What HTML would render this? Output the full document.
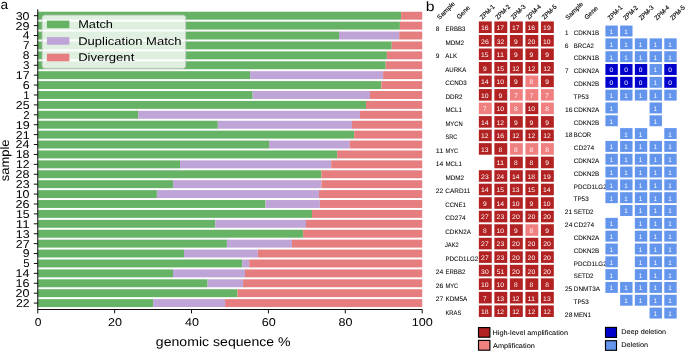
<!DOCTYPE html><html><head><meta charset="utf-8"><title>figure</title><style>html,body{margin:0;padding:0;background:#fff;width:685px;height:351px;overflow:hidden}</style></head><body><svg width="685" height="351" viewBox="0 0 685 351" style="will-change:transform;display:block;font-family:'Liberation Sans',sans-serif"><style>text{text-rendering:geometricPrecision}.pb[fill="#000"]{stroke:#000;stroke-width:0.05px}.pa{stroke:#000;stroke-width:0px}.ph{stroke:#000;stroke-width:0.15px}</style><rect x="37.75" y="11.73" width="363.35" height="7.93" fill="#66b366"/>
<rect x="401.10" y="11.73" width="21.10" height="7.93" fill="#e67d7e"/>
<rect x="37.75" y="21.64" width="362.15" height="7.93" fill="#66b366"/>
<rect x="399.90" y="21.64" width="22.30" height="7.93" fill="#e67d7e"/>
<rect x="37.75" y="31.55" width="301.25" height="7.93" fill="#66b366"/>
<rect x="339.00" y="31.55" width="60.20" height="7.93" fill="#bfa4d7"/>
<rect x="399.20" y="31.55" width="23.00" height="7.93" fill="#e67d7e"/>
<rect x="37.75" y="41.47" width="353.95" height="7.93" fill="#66b366"/>
<rect x="391.70" y="41.47" width="30.50" height="7.93" fill="#e67d7e"/>
<rect x="37.75" y="51.38" width="349.15" height="7.93" fill="#66b366"/>
<rect x="386.90" y="51.38" width="35.30" height="7.93" fill="#e67d7e"/>
<rect x="37.75" y="61.28" width="347.95" height="7.93" fill="#66b366"/>
<rect x="385.70" y="61.28" width="36.50" height="7.93" fill="#e67d7e"/>
<rect x="37.75" y="71.19" width="212.35" height="7.93" fill="#66b366"/>
<rect x="250.10" y="71.19" width="133.00" height="7.93" fill="#bfa4d7"/>
<rect x="383.10" y="71.19" width="39.10" height="7.93" fill="#e67d7e"/>
<rect x="37.75" y="81.11" width="343.65" height="7.93" fill="#66b366"/>
<rect x="381.40" y="81.11" width="40.80" height="7.93" fill="#e67d7e"/>
<rect x="37.75" y="91.02" width="214.85" height="7.93" fill="#66b366"/>
<rect x="252.60" y="91.02" width="117.40" height="7.93" fill="#bfa4d7"/>
<rect x="370.00" y="91.02" width="52.20" height="7.93" fill="#e67d7e"/>
<rect x="37.75" y="100.92" width="328.25" height="7.93" fill="#66b366"/>
<rect x="366.00" y="100.92" width="56.20" height="7.93" fill="#e67d7e"/>
<rect x="37.75" y="110.83" width="100.45" height="7.93" fill="#66b366"/>
<rect x="138.20" y="110.83" width="221.80" height="7.93" fill="#bfa4d7"/>
<rect x="360.00" y="110.83" width="62.20" height="7.93" fill="#e67d7e"/>
<rect x="37.75" y="120.75" width="180.05" height="7.93" fill="#66b366"/>
<rect x="217.80" y="120.75" width="134.20" height="7.93" fill="#bfa4d7"/>
<rect x="352.00" y="120.75" width="70.20" height="7.93" fill="#e67d7e"/>
<rect x="37.75" y="130.66" width="316.45" height="7.93" fill="#66b366"/>
<rect x="354.20" y="130.66" width="68.00" height="7.93" fill="#e67d7e"/>
<rect x="37.75" y="140.56" width="231.25" height="7.93" fill="#66b366"/>
<rect x="269.00" y="140.56" width="80.80" height="7.93" fill="#bfa4d7"/>
<rect x="349.80" y="140.56" width="72.40" height="7.93" fill="#e67d7e"/>
<rect x="37.75" y="150.47" width="299.45" height="7.93" fill="#66b366"/>
<rect x="337.20" y="150.47" width="85.00" height="7.93" fill="#e67d7e"/>
<rect x="37.75" y="160.38" width="142.25" height="7.93" fill="#66b366"/>
<rect x="180.00" y="160.38" width="151.20" height="7.93" fill="#bfa4d7"/>
<rect x="331.20" y="160.38" width="91.00" height="7.93" fill="#e67d7e"/>
<rect x="37.75" y="170.29" width="283.65" height="7.93" fill="#66b366"/>
<rect x="321.40" y="170.29" width="100.80" height="7.93" fill="#e67d7e"/>
<rect x="37.75" y="180.20" width="135.25" height="7.93" fill="#66b366"/>
<rect x="173.00" y="180.20" width="148.50" height="7.93" fill="#bfa4d7"/>
<rect x="321.50" y="180.20" width="100.70" height="7.93" fill="#e67d7e"/>
<rect x="37.75" y="190.11" width="119.15" height="7.93" fill="#66b366"/>
<rect x="156.90" y="190.11" width="162.10" height="7.93" fill="#bfa4d7"/>
<rect x="319.00" y="190.11" width="103.20" height="7.93" fill="#e67d7e"/>
<rect x="37.75" y="200.02" width="227.75" height="7.93" fill="#66b366"/>
<rect x="265.50" y="200.02" width="54.40" height="7.93" fill="#bfa4d7"/>
<rect x="319.90" y="200.02" width="102.30" height="7.93" fill="#e67d7e"/>
<rect x="37.75" y="209.93" width="274.25" height="7.93" fill="#66b366"/>
<rect x="312.00" y="209.93" width="110.20" height="7.93" fill="#e67d7e"/>
<rect x="37.75" y="219.84" width="177.55" height="7.93" fill="#66b366"/>
<rect x="215.30" y="219.84" width="90.70" height="7.93" fill="#bfa4d7"/>
<rect x="306.00" y="219.84" width="116.20" height="7.93" fill="#e67d7e"/>
<rect x="37.75" y="229.75" width="265.35" height="7.93" fill="#66b366"/>
<rect x="303.10" y="229.75" width="119.10" height="7.93" fill="#e67d7e"/>
<rect x="37.75" y="239.66" width="189.15" height="7.93" fill="#66b366"/>
<rect x="226.90" y="239.66" width="65.10" height="7.93" fill="#bfa4d7"/>
<rect x="292.00" y="239.66" width="130.20" height="7.93" fill="#e67d7e"/>
<rect x="37.75" y="249.57" width="146.25" height="7.93" fill="#66b366"/>
<rect x="184.00" y="249.57" width="73.90" height="7.93" fill="#bfa4d7"/>
<rect x="257.90" y="249.57" width="164.30" height="7.93" fill="#e67d7e"/>
<rect x="37.75" y="259.49" width="204.45" height="7.93" fill="#66b366"/>
<rect x="242.20" y="259.49" width="7.00" height="7.93" fill="#bfa4d7"/>
<rect x="249.20" y="259.49" width="173.00" height="7.93" fill="#e67d7e"/>
<rect x="37.75" y="269.40" width="135.25" height="7.93" fill="#66b366"/>
<rect x="173.00" y="269.40" width="72.00" height="7.93" fill="#bfa4d7"/>
<rect x="245.00" y="269.40" width="177.20" height="7.93" fill="#e67d7e"/>
<rect x="37.75" y="279.31" width="169.85" height="7.93" fill="#66b366"/>
<rect x="207.60" y="279.31" width="35.50" height="7.93" fill="#bfa4d7"/>
<rect x="243.10" y="279.31" width="179.10" height="7.93" fill="#e67d7e"/>
<rect x="37.75" y="289.22" width="199.75" height="7.93" fill="#66b366"/>
<rect x="237.50" y="289.22" width="184.70" height="7.93" fill="#e67d7e"/>
<rect x="37.75" y="299.12" width="115.35" height="7.93" fill="#66b366"/>
<rect x="153.10" y="299.12" width="72.00" height="7.93" fill="#bfa4d7"/>
<rect x="225.10" y="299.12" width="197.10" height="7.93" fill="#e67d7e"/>
<path d="M37.75 9.3 V309.50 H422.20" fill="none" stroke="#000" stroke-width="0.95"/>
<path d="M33.85 15.70 H37.75" stroke="#000" stroke-width="0.95"/>
<text transform="translate(15.68,19.65) scale(1.0971,1)" font-size="11.35" fill="#000" class="pa">30</text>
<path d="M33.85 25.61 H37.75" stroke="#000" stroke-width="0.95"/>
<text transform="translate(15.60,29.56) scale(1.1084,1)" font-size="11.35" fill="#000" class="pa">29</text>
<path d="M33.85 35.52 H37.75" stroke="#000" stroke-width="0.95"/>
<text transform="translate(22.68,39.47) scale(1.0600,1)" font-size="11.35" fill="#000" class="pa">4</text>
<path d="M33.85 45.43 H37.75" stroke="#000" stroke-width="0.95"/>
<text transform="translate(23.08,49.38) scale(1.0330,1)" font-size="11.35" fill="#000" class="pa">7</text>
<path d="M33.85 55.34 H37.75" stroke="#000" stroke-width="0.95"/>
<text transform="translate(22.78,59.29) scale(1.0638,1)" font-size="11.35" fill="#000" class="pa">8</text>
<path d="M33.85 65.25 H37.75" stroke="#000" stroke-width="0.95"/>
<text transform="translate(23.09,69.20) scale(1.0213,1)" font-size="11.35" fill="#000" class="pa">3</text>
<path d="M33.85 75.16 H37.75" stroke="#000" stroke-width="0.95"/>
<text transform="translate(15.87,79.11) scale(1.0914,1)" font-size="11.35" fill="#000" class="pa">17</text>
<path d="M33.85 85.07 H37.75" stroke="#000" stroke-width="0.95"/>
<text transform="translate(22.65,89.02) scale(1.0978,1)" font-size="11.35" fill="#000" class="pa">6</text>
<path d="M33.85 94.98 H37.75" stroke="#000" stroke-width="0.95"/>
<text transform="translate(23.20,98.93) scale(1.0116,1)" font-size="11.35" fill="#000" class="pa">1</text>
<path d="M33.85 104.89 H37.75" stroke="#000" stroke-width="0.95"/>
<text transform="translate(15.78,108.84) scale(1.0882,1)" font-size="11.35" fill="#000" class="pa">25</text>
<path d="M33.85 114.80 H37.75" stroke="#000" stroke-width="0.95"/>
<text transform="translate(23.21,118.75) scale(1.0110,1)" font-size="11.35" fill="#000" class="pa">2</text>
<path d="M33.85 124.71 H37.75" stroke="#000" stroke-width="0.95"/>
<text transform="translate(15.69,128.66) scale(1.1010,1)" font-size="11.35" fill="#000" class="pa">19</text>
<path d="M33.85 134.62 H37.75" stroke="#000" stroke-width="0.95"/>
<text transform="translate(15.84,138.57) scale(1.0941,1)" font-size="11.35" fill="#000" class="pa">21</text>
<path d="M33.85 144.53 H37.75" stroke="#000" stroke-width="0.95"/>
<text transform="translate(15.43,148.48) scale(1.1068,1)" font-size="11.35" fill="#000" class="pa">24</text>
<path d="M33.85 154.44 H37.75" stroke="#000" stroke-width="0.95"/>
<text transform="translate(15.63,158.39) scale(1.1005,1)" font-size="11.35" fill="#000" class="pa">18</text>
<path d="M33.85 164.35 H37.75" stroke="#000" stroke-width="0.95"/>
<text transform="translate(16.05,168.30) scale(1.0761,1)" font-size="11.35" fill="#000" class="pa">12</text>
<path d="M33.85 174.26 H37.75" stroke="#000" stroke-width="0.95"/>
<text transform="translate(15.55,178.21) scale(1.1078,1)" font-size="11.35" fill="#000" class="pa">28</text>
<path d="M33.85 184.17 H37.75" stroke="#000" stroke-width="0.95"/>
<text transform="translate(15.72,188.12) scale(1.0985,1)" font-size="11.35" fill="#000" class="pa">23</text>
<path d="M33.85 194.08 H37.75" stroke="#000" stroke-width="0.95"/>
<text transform="translate(15.63,198.03) scale(1.1005,1)" font-size="11.35" fill="#000" class="pa">10</text>
<path d="M33.85 203.99 H37.75" stroke="#000" stroke-width="0.95"/>
<text transform="translate(15.48,207.94) scale(1.1182,1)" font-size="11.35" fill="#000" class="pa">26</text>
<path d="M33.85 213.90 H37.75" stroke="#000" stroke-width="0.95"/>
<text transform="translate(15.88,217.85) scale(1.0804,1)" font-size="11.35" fill="#000" class="pa">15</text>
<path d="M33.85 223.81 H37.75" stroke="#000" stroke-width="0.95"/>
<text transform="translate(15.85,227.76) scale(1.1758,1)" font-size="11.35" fill="#000" class="pa">11</text>
<path d="M33.85 233.72 H37.75" stroke="#000" stroke-width="0.95"/>
<text transform="translate(15.81,237.67) scale(1.0909,1)" font-size="11.35" fill="#000" class="pa">13</text>
<path d="M33.85 243.63 H37.75" stroke="#000" stroke-width="0.95"/>
<text transform="translate(15.78,247.58) scale(1.0990,1)" font-size="11.35" fill="#000" class="pa">27</text>
<path d="M33.85 253.54 H37.75" stroke="#000" stroke-width="0.95"/>
<text transform="translate(22.78,257.49) scale(1.0753,1)" font-size="11.35" fill="#000" class="pa">9</text>
<path d="M33.85 263.45 H37.75" stroke="#000" stroke-width="0.95"/>
<text transform="translate(23.15,267.40) scale(1.0000,1)" font-size="11.35" fill="#000" class="pa">5</text>
<path d="M33.85 273.36 H37.75" stroke="#000" stroke-width="0.95"/>
<text transform="translate(15.52,277.31) scale(1.0995,1)" font-size="11.35" fill="#000" class="pa">14</text>
<path d="M33.85 283.27 H37.75" stroke="#000" stroke-width="0.95"/>
<text transform="translate(15.57,287.22) scale(1.1111,1)" font-size="11.35" fill="#000" class="pa">16</text>
<path d="M33.85 293.18 H37.75" stroke="#000" stroke-width="0.95"/>
<text transform="translate(15.55,297.13) scale(1.1078,1)" font-size="11.35" fill="#000" class="pa">20</text>
<path d="M33.85 303.09 H37.75" stroke="#000" stroke-width="0.95"/>
<text transform="translate(15.96,307.04) scale(1.0842,1)" font-size="11.35" fill="#000" class="pa">22</text>
<path d="M37.75 309.50 V313.40" stroke="#000" stroke-width="0.95"/>
<text transform="translate(34.70,326.10) scale(1.0632,1)" font-size="11.35" fill="#000" class="pa">0</text>
<path d="M114.64 309.50 V313.40" stroke="#000" stroke-width="0.95"/>
<text transform="translate(107.90,326.10) scale(1.1078,1)" font-size="11.35" fill="#000" class="pa">20</text>
<path d="M191.53 309.50 V313.40" stroke="#000" stroke-width="0.95"/>
<text transform="translate(184.96,326.10) scale(1.1053,1)" font-size="11.35" fill="#000" class="pa">40</text>
<path d="M268.42 309.50 V313.40" stroke="#000" stroke-width="0.95"/>
<text transform="translate(261.65,326.10) scale(1.1127,1)" font-size="11.35" fill="#000" class="pa">60</text>
<path d="M345.31 309.50 V313.40" stroke="#000" stroke-width="0.95"/>
<text transform="translate(338.60,326.10) scale(1.1073,1)" font-size="11.35" fill="#000" class="pa">80</text>
<path d="M422.20 309.50 V313.40" stroke="#000" stroke-width="0.95"/>
<text transform="translate(411.70,326.10) scale(1.1194,1)" font-size="11.35" fill="#000" class="pa">100</text>
<text transform="translate(155.84,345.50) scale(1.1159,1)" font-size="12.64" fill="#000" class="pa">genomic sequence %</text>
<text transform="translate(8.70,181.19) rotate(-90) scale(1.0557,1)" font-size="12.24" fill="#000" class="pa">sample</text>
<rect x="42.2" y="15.2" width="143.4" height="53.1" rx="2.8" fill="#fff" fill-opacity="0.8" stroke="#ccc" stroke-opacity="0.8" stroke-width="0.95"/>
<rect x="46.90" y="20.60" width="22.50" height="7.60" fill="#66b366"/>
<text transform="translate(78.18,28.25) scale(1.1373,1)" font-size="11.22" fill="#000" class="pa">Match</text>
<rect x="46.90" y="37.15" width="22.50" height="7.60" fill="#bfa4d7"/>
<text transform="translate(78.16,44.80) scale(1.1591,1)" font-size="11.22" fill="#000" class="pa">Duplication Match</text>
<rect x="46.90" y="53.70" width="22.50" height="7.60" fill="#e67d7e"/>
<text transform="translate(78.15,61.35) scale(1.1690,1)" font-size="11.22" fill="#000" class="pa">Divergent</text>
<text transform="translate(0.38,9.00) scale(1.0300,1)" font-size="13.30" fill="#000" class="pa">a</text>
<text transform="translate(425.77,10.50) scale(1.1600,1)" font-size="13.60" fill="#000" class="pa">b</text>
<text transform="translate(435.83,31.05) scale(1.0036,1)" font-size="6.47" fill="#000" class="pb">8</text>
<text transform="translate(445.42,31.05) scale(0.9434,1)" font-size="6.47" fill="#000" class="pb">ERBB3</text>
<rect x="478.85" y="21.45" width="12.90" height="11.60" fill="#b22222"/>
<text transform="translate(480.97,30.16) scale(1.0482,1)" font-size="6.57" fill="#fff" class="pb">16</text>
<rect x="494.37" y="21.45" width="12.90" height="11.60" fill="#b22222"/>
<text transform="translate(496.58,30.16) scale(1.0296,1)" font-size="6.57" fill="#fff" class="pb">17</text>
<rect x="509.89" y="21.45" width="12.90" height="11.60" fill="#b22222"/>
<text transform="translate(512.10,30.16) scale(1.0296,1)" font-size="6.57" fill="#fff" class="pb">17</text>
<rect x="525.41" y="21.45" width="12.90" height="11.60" fill="#b22222"/>
<text transform="translate(527.53,30.16) scale(1.0482,1)" font-size="6.57" fill="#fff" class="pb">16</text>
<rect x="540.93" y="21.45" width="12.90" height="11.60" fill="#b22222"/>
<text transform="translate(543.09,30.16) scale(1.0387,1)" font-size="6.57" fill="#fff" class="pb">19</text>
<text transform="translate(445.40,44.57) scale(0.9819,1)" font-size="6.47" fill="#000" class="pb">MDM2</text>
<rect x="478.85" y="34.97" width="12.90" height="11.60" fill="#b22222"/>
<text transform="translate(481.03,43.68) scale(1.0549,1)" font-size="6.57" fill="#fff" class="pb">26</text>
<rect x="494.37" y="34.97" width="12.90" height="11.60" fill="#b22222"/>
<text transform="translate(496.76,43.68) scale(1.0128,1)" font-size="6.57" fill="#fff" class="pb">32</text>
<rect x="509.89" y="34.97" width="12.90" height="11.60" fill="#b22222"/>
<text transform="translate(514.09,43.68) scale(1.0144,1)" font-size="6.57" fill="#fff" class="pb">9</text>
<rect x="525.41" y="34.97" width="12.90" height="11.60" fill="#b22222"/>
<text transform="translate(527.61,43.68) scale(1.0451,1)" font-size="6.57" fill="#fff" class="pb">20</text>
<rect x="540.93" y="34.97" width="12.90" height="11.60" fill="#b22222"/>
<text transform="translate(543.07,43.68) scale(1.0382,1)" font-size="6.57" fill="#fff" class="pb">10</text>
<text transform="translate(435.80,58.09) scale(1.0144,1)" font-size="6.47" fill="#000" class="pb">9</text>
<text transform="translate(445.33,58.09) scale(0.9585,1)" font-size="6.47" fill="#000" class="pb">ALK</text>
<rect x="478.85" y="48.49" width="12.90" height="11.60" fill="#b22222"/>
<text transform="translate(481.07,57.20) scale(1.0192,1)" font-size="6.57" fill="#fff" class="pb">15</text>
<rect x="494.37" y="48.49" width="12.90" height="11.60" fill="#b22222"/>
<text transform="translate(496.56,57.20) scale(1.1093,1)" font-size="6.57" fill="#fff" class="pb">11</text>
<rect x="509.89" y="48.49" width="12.90" height="11.60" fill="#b22222"/>
<text transform="translate(514.09,57.20) scale(1.0144,1)" font-size="6.57" fill="#fff" class="pb">9</text>
<rect x="525.41" y="48.49" width="12.90" height="11.60" fill="#b22222"/>
<text transform="translate(529.61,57.20) scale(1.0144,1)" font-size="6.57" fill="#fff" class="pb">9</text>
<rect x="540.93" y="48.49" width="12.90" height="11.60" fill="#b22222"/>
<text transform="translate(545.13,57.20) scale(1.0144,1)" font-size="6.57" fill="#fff" class="pb">9</text>
<text transform="translate(445.33,71.61) scale(0.9365,1)" font-size="6.47" fill="#000" class="pb">AURKA</text>
<rect x="478.85" y="62.01" width="12.90" height="11.60" fill="#b22222"/>
<text transform="translate(483.05,70.72) scale(1.0144,1)" font-size="6.57" fill="#fff" class="pb">9</text>
<rect x="494.37" y="62.01" width="12.90" height="11.60" fill="#b22222"/>
<text transform="translate(496.59,70.72) scale(1.0192,1)" font-size="6.57" fill="#fff" class="pb">15</text>
<rect x="509.89" y="62.01" width="12.90" height="11.60" fill="#b22222"/>
<text transform="translate(512.15,70.72) scale(1.0152,1)" font-size="6.57" fill="#fff" class="pb">12</text>
<rect x="525.41" y="62.01" width="12.90" height="11.60" fill="#b22222"/>
<text transform="translate(527.67,70.72) scale(1.0152,1)" font-size="6.57" fill="#fff" class="pb">12</text>
<rect x="540.93" y="62.01" width="12.90" height="11.60" fill="#b22222"/>
<text transform="translate(543.19,70.72) scale(1.0152,1)" font-size="6.57" fill="#fff" class="pb">12</text>
<text transform="translate(445.32,85.13) scale(0.9617,1)" font-size="6.47" fill="#000" class="pb">CCND3</text>
<rect x="478.85" y="75.53" width="12.90" height="11.60" fill="#b22222"/>
<text transform="translate(480.96,84.24) scale(1.0373,1)" font-size="6.57" fill="#fff" class="pb">14</text>
<rect x="494.37" y="75.53" width="12.90" height="11.60" fill="#b22222"/>
<text transform="translate(496.51,84.24) scale(1.0382,1)" font-size="6.57" fill="#fff" class="pb">10</text>
<rect x="509.89" y="75.53" width="12.90" height="11.60" fill="#b22222"/>
<text transform="translate(514.09,84.24) scale(1.0144,1)" font-size="6.57" fill="#fff" class="pb">9</text>
<rect x="525.41" y="75.53" width="12.90" height="11.60" fill="#f08080"/>
<text transform="translate(529.61,84.24) scale(1.0036,1)" font-size="6.57" fill="#fff" class="pb">8</text>
<rect x="540.93" y="75.53" width="12.90" height="11.60" fill="#b22222"/>
<text transform="translate(545.13,84.24) scale(1.0144,1)" font-size="6.57" fill="#fff" class="pb">9</text>
<text transform="translate(445.41,98.65) scale(0.9725,1)" font-size="6.47" fill="#000" class="pb">DDR2</text>
<rect x="478.85" y="89.05" width="12.90" height="11.60" fill="#b22222"/>
<text transform="translate(480.99,97.76) scale(1.0382,1)" font-size="6.57" fill="#fff" class="pb">10</text>
<rect x="494.37" y="89.05" width="12.90" height="11.60" fill="#b22222"/>
<text transform="translate(498.57,97.76) scale(1.0144,1)" font-size="6.57" fill="#fff" class="pb">9</text>
<rect x="509.89" y="89.05" width="12.90" height="11.60" fill="#f08080"/>
<text transform="translate(514.16,97.76) scale(0.9745,1)" font-size="6.57" fill="#fff" class="pb">7</text>
<rect x="525.41" y="89.05" width="12.90" height="11.60" fill="#f08080"/>
<text transform="translate(529.68,97.76) scale(0.9745,1)" font-size="6.57" fill="#fff" class="pb">7</text>
<rect x="540.93" y="89.05" width="12.90" height="11.60" fill="#f08080"/>
<text transform="translate(545.20,97.76) scale(0.9745,1)" font-size="6.57" fill="#fff" class="pb">7</text>
<text transform="translate(445.42,112.17) scale(0.9546,1)" font-size="6.47" fill="#000" class="pb">MCL1</text>
<rect x="478.85" y="102.57" width="12.90" height="11.60" fill="#f08080"/>
<text transform="translate(483.12,111.28) scale(0.9745,1)" font-size="6.57" fill="#fff" class="pb">7</text>
<rect x="494.37" y="102.57" width="12.90" height="11.60" fill="#b22222"/>
<text transform="translate(496.51,111.28) scale(1.0382,1)" font-size="6.57" fill="#fff" class="pb">10</text>
<rect x="509.89" y="102.57" width="12.90" height="11.60" fill="#f08080"/>
<text transform="translate(514.09,111.28) scale(1.0036,1)" font-size="6.57" fill="#fff" class="pb">8</text>
<rect x="525.41" y="102.57" width="12.90" height="11.60" fill="#b22222"/>
<text transform="translate(527.55,111.28) scale(1.0382,1)" font-size="6.57" fill="#fff" class="pb">10</text>
<rect x="540.93" y="102.57" width="12.90" height="11.60" fill="#f08080"/>
<text transform="translate(545.13,111.28) scale(1.0036,1)" font-size="6.57" fill="#fff" class="pb">8</text>
<text transform="translate(445.44,125.69) scale(0.9044,1)" font-size="6.47" fill="#000" class="pb">MYCN</text>
<rect x="478.85" y="116.09" width="12.90" height="11.60" fill="#b22222"/>
<text transform="translate(480.96,124.80) scale(1.0373,1)" font-size="6.57" fill="#fff" class="pb">14</text>
<rect x="494.37" y="116.09" width="12.90" height="11.60" fill="#b22222"/>
<text transform="translate(496.63,124.80) scale(1.0152,1)" font-size="6.57" fill="#fff" class="pb">12</text>
<rect x="509.89" y="116.09" width="12.90" height="11.60" fill="#b22222"/>
<text transform="translate(514.09,124.80) scale(1.0144,1)" font-size="6.57" fill="#fff" class="pb">9</text>
<rect x="525.41" y="116.09" width="12.90" height="11.60" fill="#b22222"/>
<text transform="translate(529.61,124.80) scale(1.0144,1)" font-size="6.57" fill="#fff" class="pb">9</text>
<rect x="540.93" y="116.09" width="12.90" height="11.60" fill="#b22222"/>
<text transform="translate(545.13,124.80) scale(1.0144,1)" font-size="6.57" fill="#fff" class="pb">9</text>
<text transform="translate(445.44,139.21) scale(0.8665,1)" font-size="6.47" fill="#000" class="pb">SRC</text>
<rect x="478.85" y="129.61" width="12.90" height="11.60" fill="#b22222"/>
<text transform="translate(481.11,138.32) scale(1.0152,1)" font-size="6.57" fill="#fff" class="pb">12</text>
<rect x="494.37" y="129.61" width="12.90" height="11.60" fill="#b22222"/>
<text transform="translate(496.49,138.32) scale(1.0482,1)" font-size="6.57" fill="#fff" class="pb">16</text>
<rect x="509.89" y="129.61" width="12.90" height="11.60" fill="#b22222"/>
<text transform="translate(512.15,138.32) scale(1.0152,1)" font-size="6.57" fill="#fff" class="pb">12</text>
<rect x="525.41" y="129.61" width="12.90" height="11.60" fill="#b22222"/>
<text transform="translate(527.67,138.32) scale(1.0152,1)" font-size="6.57" fill="#fff" class="pb">12</text>
<rect x="540.93" y="129.61" width="12.90" height="11.60" fill="#b22222"/>
<text transform="translate(543.19,138.32) scale(1.0152,1)" font-size="6.57" fill="#fff" class="pb">12</text>
<text transform="translate(435.83,152.73) scale(1.1093,1)" font-size="6.47" fill="#000" class="pb">11</text>
<text transform="translate(445.45,152.73) scale(0.8827,1)" font-size="6.47" fill="#000" class="pb">MYC</text>
<rect x="478.85" y="143.13" width="12.90" height="11.60" fill="#b22222"/>
<text transform="translate(481.04,151.84) scale(1.0292,1)" font-size="6.57" fill="#fff" class="pb">13</text>
<rect x="494.37" y="143.13" width="12.90" height="11.60" fill="#b22222"/>
<text transform="translate(498.57,151.84) scale(1.0036,1)" font-size="6.57" fill="#fff" class="pb">8</text>
<rect x="509.89" y="143.13" width="12.90" height="11.60" fill="#f08080"/>
<text transform="translate(514.09,151.84) scale(1.0036,1)" font-size="6.57" fill="#fff" class="pb">8</text>
<rect x="525.41" y="143.13" width="12.90" height="11.60" fill="#f08080"/>
<text transform="translate(529.61,151.84) scale(1.0036,1)" font-size="6.57" fill="#fff" class="pb">8</text>
<rect x="540.93" y="143.13" width="12.90" height="11.60" fill="#f08080"/>
<text transform="translate(545.13,151.84) scale(1.0036,1)" font-size="6.57" fill="#fff" class="pb">8</text>
<text transform="translate(435.87,166.25) scale(1.0373,1)" font-size="6.47" fill="#000" class="pb">14</text>
<text transform="translate(445.42,166.25) scale(0.9546,1)" font-size="6.47" fill="#000" class="pb">MCL1</text>
<rect x="494.37" y="156.65" width="12.90" height="11.60" fill="#b22222"/>
<text transform="translate(496.56,165.36) scale(1.1093,1)" font-size="6.57" fill="#fff" class="pb">11</text>
<rect x="509.89" y="156.65" width="12.90" height="11.60" fill="#b22222"/>
<text transform="translate(514.09,165.36) scale(1.0036,1)" font-size="6.57" fill="#fff" class="pb">8</text>
<rect x="525.41" y="156.65" width="12.90" height="11.60" fill="#b22222"/>
<text transform="translate(529.61,165.36) scale(1.0036,1)" font-size="6.57" fill="#fff" class="pb">8</text>
<rect x="540.93" y="156.65" width="12.90" height="11.60" fill="#b22222"/>
<text transform="translate(545.13,165.36) scale(1.0144,1)" font-size="6.57" fill="#fff" class="pb">9</text>
<text transform="translate(445.40,179.77) scale(0.9819,1)" font-size="6.47" fill="#000" class="pb">MDM2</text>
<rect x="478.85" y="170.17" width="12.90" height="11.60" fill="#b22222"/>
<text transform="translate(481.10,178.88) scale(1.0363,1)" font-size="6.57" fill="#fff" class="pb">23</text>
<rect x="494.37" y="170.17" width="12.90" height="11.60" fill="#b22222"/>
<text transform="translate(496.54,178.88) scale(1.0441,1)" font-size="6.57" fill="#fff" class="pb">24</text>
<rect x="509.89" y="170.17" width="12.90" height="11.60" fill="#b22222"/>
<text transform="translate(512.00,178.88) scale(1.0373,1)" font-size="6.57" fill="#fff" class="pb">14</text>
<rect x="525.41" y="170.17" width="12.90" height="11.60" fill="#b22222"/>
<text transform="translate(527.55,178.88) scale(1.0382,1)" font-size="6.57" fill="#fff" class="pb">18</text>
<rect x="540.93" y="170.17" width="12.90" height="11.60" fill="#b22222"/>
<text transform="translate(543.09,178.88) scale(1.0387,1)" font-size="6.57" fill="#fff" class="pb">19</text>
<text transform="translate(435.83,193.29) scale(1.0228,1)" font-size="6.47" fill="#000" class="pb">22</text>
<text transform="translate(445.31,193.29) scale(0.9947,1)" font-size="6.47" fill="#000" class="pb">CARD11</text>
<rect x="478.85" y="183.69" width="12.90" height="11.60" fill="#b22222"/>
<text transform="translate(480.96,192.40) scale(1.0373,1)" font-size="6.57" fill="#fff" class="pb">14</text>
<rect x="494.37" y="183.69" width="12.90" height="11.60" fill="#b22222"/>
<text transform="translate(496.59,192.40) scale(1.0192,1)" font-size="6.57" fill="#fff" class="pb">15</text>
<rect x="509.89" y="183.69" width="12.90" height="11.60" fill="#b22222"/>
<text transform="translate(512.08,192.40) scale(1.0292,1)" font-size="6.57" fill="#fff" class="pb">13</text>
<rect x="525.41" y="183.69" width="12.90" height="11.60" fill="#b22222"/>
<text transform="translate(527.63,192.40) scale(1.0192,1)" font-size="6.57" fill="#fff" class="pb">15</text>
<rect x="540.93" y="183.69" width="12.90" height="11.60" fill="#b22222"/>
<text transform="translate(543.04,192.40) scale(1.0373,1)" font-size="6.57" fill="#fff" class="pb">14</text>
<text transform="translate(445.33,206.81) scale(0.9362,1)" font-size="6.47" fill="#000" class="pb">CCNE1</text>
<rect x="478.85" y="197.21" width="12.90" height="11.60" fill="#b22222"/>
<text transform="translate(483.05,205.92) scale(1.0144,1)" font-size="6.57" fill="#fff" class="pb">9</text>
<rect x="494.37" y="197.21" width="12.90" height="11.60" fill="#b22222"/>
<text transform="translate(496.48,205.92) scale(1.0373,1)" font-size="6.57" fill="#fff" class="pb">14</text>
<rect x="509.89" y="197.21" width="12.90" height="11.60" fill="#b22222"/>
<text transform="translate(512.03,205.92) scale(1.0382,1)" font-size="6.57" fill="#fff" class="pb">10</text>
<rect x="525.41" y="197.21" width="12.90" height="11.60" fill="#b22222"/>
<text transform="translate(529.61,205.92) scale(1.0144,1)" font-size="6.57" fill="#fff" class="pb">9</text>
<rect x="540.93" y="197.21" width="12.90" height="11.60" fill="#b22222"/>
<text transform="translate(543.07,205.92) scale(1.0382,1)" font-size="6.57" fill="#fff" class="pb">10</text>
<text transform="translate(445.31,220.33) scale(1.0166,1)" font-size="6.47" fill="#000" class="pb">CD274</text>
<rect x="478.85" y="210.73" width="12.90" height="11.60" fill="#b22222"/>
<text transform="translate(481.12,219.44) scale(1.0368,1)" font-size="6.57" fill="#fff" class="pb">27</text>
<rect x="494.37" y="210.73" width="12.90" height="11.60" fill="#b22222"/>
<text transform="translate(496.62,219.44) scale(1.0363,1)" font-size="6.57" fill="#fff" class="pb">23</text>
<rect x="509.89" y="210.73" width="12.90" height="11.60" fill="#b22222"/>
<text transform="translate(512.09,219.44) scale(1.0451,1)" font-size="6.57" fill="#fff" class="pb">20</text>
<rect x="525.41" y="210.73" width="12.90" height="11.60" fill="#b22222"/>
<text transform="translate(527.61,219.44) scale(1.0451,1)" font-size="6.57" fill="#fff" class="pb">20</text>
<rect x="540.93" y="210.73" width="12.90" height="11.60" fill="#b22222"/>
<text transform="translate(543.13,219.44) scale(1.0451,1)" font-size="6.57" fill="#fff" class="pb">20</text>
<text transform="translate(445.32,233.85) scale(0.9728,1)" font-size="6.47" fill="#000" class="pb">CDKN2A</text>
<rect x="478.85" y="224.25" width="12.90" height="11.60" fill="#b22222"/>
<text transform="translate(483.05,232.96) scale(1.0036,1)" font-size="6.57" fill="#fff" class="pb">8</text>
<rect x="494.37" y="224.25" width="12.90" height="11.60" fill="#b22222"/>
<text transform="translate(496.51,232.96) scale(1.0382,1)" font-size="6.57" fill="#fff" class="pb">10</text>
<rect x="509.89" y="224.25" width="12.90" height="11.60" fill="#b22222"/>
<text transform="translate(514.09,232.96) scale(1.0144,1)" font-size="6.57" fill="#fff" class="pb">9</text>
<rect x="525.41" y="224.25" width="12.90" height="11.60" fill="#f08080"/>
<text transform="translate(529.61,232.96) scale(1.0036,1)" font-size="6.57" fill="#fff" class="pb">8</text>
<rect x="540.93" y="224.25" width="12.90" height="11.60" fill="#b22222"/>
<text transform="translate(545.13,232.96) scale(1.0144,1)" font-size="6.57" fill="#fff" class="pb">9</text>
<text transform="translate(444.91,247.37) scale(0.8927,1)" font-size="6.47" fill="#000" class="pb">JAK2</text>
<rect x="478.85" y="237.77" width="12.90" height="11.60" fill="#b22222"/>
<text transform="translate(481.12,246.48) scale(1.0368,1)" font-size="6.57" fill="#fff" class="pb">27</text>
<rect x="494.37" y="237.77" width="12.90" height="11.60" fill="#b22222"/>
<text transform="translate(496.62,246.48) scale(1.0363,1)" font-size="6.57" fill="#fff" class="pb">23</text>
<rect x="509.89" y="237.77" width="12.90" height="11.60" fill="#b22222"/>
<text transform="translate(512.09,246.48) scale(1.0451,1)" font-size="6.57" fill="#fff" class="pb">20</text>
<rect x="525.41" y="237.77" width="12.90" height="11.60" fill="#b22222"/>
<text transform="translate(527.61,246.48) scale(1.0451,1)" font-size="6.57" fill="#fff" class="pb">20</text>
<rect x="540.93" y="237.77" width="12.90" height="11.60" fill="#b22222"/>
<text transform="translate(543.13,246.48) scale(1.0451,1)" font-size="6.57" fill="#fff" class="pb">20</text>
<text transform="translate(445.41,260.89) scale(0.9608,1)" font-size="6.47" fill="#000" class="pb">PDCD1LG2</text>
<rect x="478.85" y="251.29" width="12.90" height="11.60" fill="#b22222"/>
<text transform="translate(481.12,260.00) scale(1.0368,1)" font-size="6.57" fill="#fff" class="pb">27</text>
<rect x="494.37" y="251.29" width="12.90" height="11.60" fill="#b22222"/>
<text transform="translate(496.62,260.00) scale(1.0363,1)" font-size="6.57" fill="#fff" class="pb">23</text>
<rect x="509.89" y="251.29" width="12.90" height="11.60" fill="#b22222"/>
<text transform="translate(512.09,260.00) scale(1.0451,1)" font-size="6.57" fill="#fff" class="pb">20</text>
<rect x="525.41" y="251.29" width="12.90" height="11.60" fill="#b22222"/>
<text transform="translate(527.61,260.00) scale(1.0451,1)" font-size="6.57" fill="#fff" class="pb">20</text>
<rect x="540.93" y="251.29" width="12.90" height="11.60" fill="#b22222"/>
<text transform="translate(543.13,260.00) scale(1.0451,1)" font-size="6.57" fill="#fff" class="pb">20</text>
<text transform="translate(435.82,274.41) scale(1.0441,1)" font-size="6.47" fill="#000" class="pb">24</text>
<text transform="translate(445.42,274.41) scale(0.9389,1)" font-size="6.47" fill="#000" class="pb">ERBB2</text>
<rect x="478.85" y="264.81" width="12.90" height="11.60" fill="#b22222"/>
<text transform="translate(481.12,273.52) scale(1.0350,1)" font-size="6.57" fill="#fff" class="pb">30</text>
<rect x="494.37" y="264.81" width="12.90" height="11.60" fill="#b22222"/>
<text transform="translate(496.73,273.52) scale(1.0220,1)" font-size="6.57" fill="#fff" class="pb">51</text>
<rect x="509.89" y="264.81" width="12.90" height="11.60" fill="#b22222"/>
<text transform="translate(512.09,273.52) scale(1.0451,1)" font-size="6.57" fill="#fff" class="pb">20</text>
<rect x="525.41" y="264.81" width="12.90" height="11.60" fill="#b22222"/>
<text transform="translate(527.61,273.52) scale(1.0451,1)" font-size="6.57" fill="#fff" class="pb">20</text>
<rect x="540.93" y="264.81" width="12.90" height="11.60" fill="#b22222"/>
<text transform="translate(543.13,273.52) scale(1.0451,1)" font-size="6.57" fill="#fff" class="pb">20</text>
<text transform="translate(435.82,287.93) scale(1.0549,1)" font-size="6.47" fill="#000" class="pb">26</text>
<text transform="translate(445.45,287.93) scale(0.8827,1)" font-size="6.47" fill="#000" class="pb">MYC</text>
<rect x="478.85" y="278.33" width="12.90" height="11.60" fill="#b22222"/>
<text transform="translate(480.99,287.04) scale(1.0382,1)" font-size="6.57" fill="#fff" class="pb">10</text>
<rect x="494.37" y="278.33" width="12.90" height="11.60" fill="#b22222"/>
<text transform="translate(496.51,287.04) scale(1.0382,1)" font-size="6.57" fill="#fff" class="pb">10</text>
<rect x="509.89" y="278.33" width="12.90" height="11.60" fill="#b22222"/>
<text transform="translate(514.09,287.04) scale(1.0036,1)" font-size="6.57" fill="#fff" class="pb">8</text>
<rect x="525.41" y="278.33" width="12.90" height="11.60" fill="#b22222"/>
<text transform="translate(529.61,287.04) scale(1.0036,1)" font-size="6.57" fill="#fff" class="pb">8</text>
<rect x="540.93" y="278.33" width="12.90" height="11.60" fill="#b22222"/>
<text transform="translate(545.13,287.04) scale(1.0036,1)" font-size="6.57" fill="#fff" class="pb">8</text>
<text transform="translate(435.82,301.45) scale(1.0368,1)" font-size="6.47" fill="#000" class="pb">27</text>
<text transform="translate(445.40,301.45) scale(0.9812,1)" font-size="6.47" fill="#000" class="pb">KDM5A</text>
<rect x="478.85" y="291.85" width="12.90" height="11.60" fill="#b22222"/>
<text transform="translate(483.12,300.56) scale(0.9745,1)" font-size="6.57" fill="#fff" class="pb">7</text>
<rect x="494.37" y="291.85" width="12.90" height="11.60" fill="#b22222"/>
<text transform="translate(496.56,300.56) scale(1.0292,1)" font-size="6.57" fill="#fff" class="pb">13</text>
<rect x="509.89" y="291.85" width="12.90" height="11.60" fill="#b22222"/>
<text transform="translate(512.15,300.56) scale(1.0152,1)" font-size="6.57" fill="#fff" class="pb">12</text>
<rect x="525.41" y="291.85" width="12.90" height="11.60" fill="#b22222"/>
<text transform="translate(527.60,300.56) scale(1.1093,1)" font-size="6.57" fill="#fff" class="pb">11</text>
<rect x="540.93" y="291.85" width="12.90" height="11.60" fill="#b22222"/>
<text transform="translate(543.12,300.56) scale(1.0292,1)" font-size="6.57" fill="#fff" class="pb">13</text>
<text transform="translate(445.44,314.97) scale(0.8998,1)" font-size="6.47" fill="#000" class="pb">KRAS</text>
<rect x="478.85" y="305.37" width="12.90" height="11.60" fill="#b22222"/>
<text transform="translate(480.99,314.08) scale(1.0382,1)" font-size="6.57" fill="#fff" class="pb">18</text>
<rect x="494.37" y="305.37" width="12.90" height="11.60" fill="#b22222"/>
<text transform="translate(496.63,314.08) scale(1.0152,1)" font-size="6.57" fill="#fff" class="pb">12</text>
<rect x="509.89" y="305.37" width="12.90" height="11.60" fill="#b22222"/>
<text transform="translate(512.15,314.08) scale(1.0152,1)" font-size="6.57" fill="#fff" class="pb">12</text>
<rect x="525.41" y="305.37" width="12.90" height="11.60" fill="#b22222"/>
<text transform="translate(527.67,314.08) scale(1.0152,1)" font-size="6.57" fill="#fff" class="pb">12</text>
<rect x="540.93" y="305.37" width="12.90" height="11.60" fill="#b22222"/>
<text transform="translate(543.19,314.08) scale(1.0152,1)" font-size="6.57" fill="#fff" class="pb">12</text>
<text transform="translate(564.96,34.80) scale(0.9544,1)" font-size="6.47" fill="#000" class="pb">1</text>
<text transform="translate(573.72,34.80) scale(0.9708,1)" font-size="6.47" fill="#000" class="pb">CDKN1B</text>
<rect x="605.40" y="25.55" width="12.40" height="10.95" fill="#6495ed"/>
<text transform="translate(609.43,33.94) scale(0.9544,1)" font-size="6.57" fill="#fff" class="pb">1</text>
<rect x="620.12" y="25.55" width="12.40" height="10.95" fill="#6495ed"/>
<text transform="translate(624.15,33.94) scale(0.9544,1)" font-size="6.57" fill="#fff" class="pb">1</text>
<text transform="translate(564.84,47.62) scale(1.0357,1)" font-size="6.47" fill="#000" class="pb">6</text>
<text transform="translate(573.83,47.62) scale(0.9272,1)" font-size="6.47" fill="#000" class="pb">BRCA2</text>
<rect x="605.40" y="38.37" width="12.40" height="10.95" fill="#6495ed"/>
<text transform="translate(609.43,46.76) scale(0.9544,1)" font-size="6.57" fill="#fff" class="pb">1</text>
<rect x="620.12" y="38.37" width="12.40" height="10.95" fill="#6495ed"/>
<text transform="translate(624.15,46.76) scale(0.9544,1)" font-size="6.57" fill="#fff" class="pb">1</text>
<rect x="634.84" y="38.37" width="12.40" height="10.95" fill="#6495ed"/>
<text transform="translate(638.87,46.76) scale(0.9544,1)" font-size="6.57" fill="#fff" class="pb">1</text>
<rect x="649.56" y="38.37" width="12.40" height="10.95" fill="#6495ed"/>
<text transform="translate(653.59,46.76) scale(0.9544,1)" font-size="6.57" fill="#fff" class="pb">1</text>
<rect x="664.28" y="38.37" width="12.40" height="10.95" fill="#6495ed"/>
<text transform="translate(668.31,46.76) scale(0.9544,1)" font-size="6.57" fill="#fff" class="pb">1</text>
<text transform="translate(573.72,60.44) scale(0.9708,1)" font-size="6.47" fill="#000" class="pb">CDKN1B</text>
<rect x="605.40" y="51.19" width="12.40" height="10.95" fill="#6495ed"/>
<text transform="translate(609.43,59.58) scale(0.9544,1)" font-size="6.57" fill="#fff" class="pb">1</text>
<rect x="620.12" y="51.19" width="12.40" height="10.95" fill="#6495ed"/>
<text transform="translate(624.15,59.58) scale(0.9544,1)" font-size="6.57" fill="#fff" class="pb">1</text>
<rect x="634.84" y="51.19" width="12.40" height="10.95" fill="#6495ed"/>
<text transform="translate(638.87,59.58) scale(0.9544,1)" font-size="6.57" fill="#fff" class="pb">1</text>
<rect x="649.56" y="51.19" width="12.40" height="10.95" fill="#6495ed"/>
<text transform="translate(653.59,59.58) scale(0.9544,1)" font-size="6.57" fill="#fff" class="pb">1</text>
<rect x="664.28" y="51.19" width="12.40" height="10.95" fill="#6495ed"/>
<text transform="translate(668.31,59.58) scale(0.9544,1)" font-size="6.57" fill="#fff" class="pb">1</text>
<text transform="translate(564.92,73.26) scale(0.9745,1)" font-size="6.47" fill="#000" class="pb">7</text>
<text transform="translate(573.72,73.26) scale(0.9728,1)" font-size="6.47" fill="#000" class="pb">CDKN2A</text>
<rect x="605.40" y="64.01" width="12.40" height="10.95" fill="#0000cd"/>
<text transform="translate(609.42,72.40) scale(1.0030,1)" font-size="6.57" fill="#fff" class="pb">0</text>
<rect x="620.12" y="64.01" width="12.40" height="10.95" fill="#0000cd"/>
<text transform="translate(624.14,72.40) scale(1.0030,1)" font-size="6.57" fill="#fff" class="pb">0</text>
<rect x="634.84" y="64.01" width="12.40" height="10.95" fill="#0000cd"/>
<text transform="translate(638.86,72.40) scale(1.0030,1)" font-size="6.57" fill="#fff" class="pb">0</text>
<rect x="649.56" y="64.01" width="12.40" height="10.95" fill="#6495ed"/>
<text transform="translate(653.59,72.40) scale(0.9544,1)" font-size="6.57" fill="#fff" class="pb">1</text>
<rect x="664.28" y="64.01" width="12.40" height="10.95" fill="#0000cd"/>
<text transform="translate(668.30,72.40) scale(1.0030,1)" font-size="6.57" fill="#fff" class="pb">0</text>
<text transform="translate(573.72,86.08) scale(0.9708,1)" font-size="6.47" fill="#000" class="pb">CDKN2B</text>
<rect x="605.40" y="76.83" width="12.40" height="10.95" fill="#0000cd"/>
<text transform="translate(609.42,85.22) scale(1.0030,1)" font-size="6.57" fill="#fff" class="pb">0</text>
<rect x="620.12" y="76.83" width="12.40" height="10.95" fill="#0000cd"/>
<text transform="translate(624.14,85.22) scale(1.0030,1)" font-size="6.57" fill="#fff" class="pb">0</text>
<rect x="634.84" y="76.83" width="12.40" height="10.95" fill="#0000cd"/>
<text transform="translate(638.86,85.22) scale(1.0030,1)" font-size="6.57" fill="#fff" class="pb">0</text>
<rect x="649.56" y="76.83" width="12.40" height="10.95" fill="#6495ed"/>
<text transform="translate(653.59,85.22) scale(0.9544,1)" font-size="6.57" fill="#fff" class="pb">1</text>
<rect x="664.28" y="76.83" width="12.40" height="10.95" fill="#0000cd"/>
<text transform="translate(668.30,85.22) scale(1.0030,1)" font-size="6.57" fill="#fff" class="pb">0</text>
<text transform="translate(573.54,98.90) scale(0.9779,1)" font-size="6.47" fill="#000" class="pb">TP53</text>
<rect x="605.40" y="89.65" width="12.40" height="10.95" fill="#6495ed"/>
<text transform="translate(609.43,98.04) scale(0.9544,1)" font-size="6.57" fill="#fff" class="pb">1</text>
<rect x="620.12" y="89.65" width="12.40" height="10.95" fill="#6495ed"/>
<text transform="translate(624.15,98.04) scale(0.9544,1)" font-size="6.57" fill="#fff" class="pb">1</text>
<rect x="634.84" y="89.65" width="12.40" height="10.95" fill="#6495ed"/>
<text transform="translate(638.87,98.04) scale(0.9544,1)" font-size="6.57" fill="#fff" class="pb">1</text>
<rect x="649.56" y="89.65" width="12.40" height="10.95" fill="#6495ed"/>
<text transform="translate(653.59,98.04) scale(0.9544,1)" font-size="6.57" fill="#fff" class="pb">1</text>
<rect x="664.28" y="89.65" width="12.40" height="10.95" fill="#6495ed"/>
<text transform="translate(668.31,98.04) scale(0.9544,1)" font-size="6.57" fill="#fff" class="pb">1</text>
<text transform="translate(564.91,111.72) scale(1.0482,1)" font-size="6.47" fill="#000" class="pb">16</text>
<text transform="translate(573.72,111.72) scale(0.9728,1)" font-size="6.47" fill="#000" class="pb">CDKN2A</text>
<rect x="605.40" y="102.47" width="12.40" height="10.95" fill="#6495ed"/>
<text transform="translate(609.43,110.86) scale(0.9544,1)" font-size="6.57" fill="#fff" class="pb">1</text>
<rect x="649.56" y="102.47" width="12.40" height="10.95" fill="#6495ed"/>
<text transform="translate(653.59,110.86) scale(0.9544,1)" font-size="6.57" fill="#fff" class="pb">1</text>
<text transform="translate(573.72,124.54) scale(0.9708,1)" font-size="6.47" fill="#000" class="pb">CDKN2B</text>
<rect x="605.40" y="115.29" width="12.40" height="10.95" fill="#6495ed"/>
<text transform="translate(609.43,123.68) scale(0.9544,1)" font-size="6.57" fill="#fff" class="pb">1</text>
<rect x="649.56" y="115.29" width="12.40" height="10.95" fill="#6495ed"/>
<text transform="translate(653.59,123.68) scale(0.9544,1)" font-size="6.57" fill="#fff" class="pb">1</text>
<text transform="translate(564.92,137.36) scale(1.0382,1)" font-size="6.47" fill="#000" class="pb">18</text>
<text transform="translate(573.83,137.36) scale(0.9297,1)" font-size="6.47" fill="#000" class="pb">BCOR</text>
<rect x="620.12" y="128.11" width="12.40" height="10.95" fill="#6495ed"/>
<text transform="translate(624.15,136.50) scale(0.9544,1)" font-size="6.57" fill="#fff" class="pb">1</text>
<rect x="634.84" y="128.11" width="12.40" height="10.95" fill="#6495ed"/>
<text transform="translate(638.87,136.50) scale(0.9544,1)" font-size="6.57" fill="#fff" class="pb">1</text>
<rect x="664.28" y="128.11" width="12.40" height="10.95" fill="#6495ed"/>
<text transform="translate(668.31,136.50) scale(0.9544,1)" font-size="6.57" fill="#fff" class="pb">1</text>
<text transform="translate(573.71,150.18) scale(1.0166,1)" font-size="6.47" fill="#000" class="pb">CD274</text>
<rect x="605.40" y="140.93" width="12.40" height="10.95" fill="#6495ed"/>
<text transform="translate(609.43,149.32) scale(0.9544,1)" font-size="6.57" fill="#fff" class="pb">1</text>
<rect x="620.12" y="140.93" width="12.40" height="10.95" fill="#6495ed"/>
<text transform="translate(624.15,149.32) scale(0.9544,1)" font-size="6.57" fill="#fff" class="pb">1</text>
<rect x="634.84" y="140.93" width="12.40" height="10.95" fill="#6495ed"/>
<text transform="translate(638.87,149.32) scale(0.9544,1)" font-size="6.57" fill="#fff" class="pb">1</text>
<rect x="649.56" y="140.93" width="12.40" height="10.95" fill="#6495ed"/>
<text transform="translate(653.59,149.32) scale(0.9544,1)" font-size="6.57" fill="#fff" class="pb">1</text>
<rect x="664.28" y="140.93" width="12.40" height="10.95" fill="#6495ed"/>
<text transform="translate(668.31,149.32) scale(0.9544,1)" font-size="6.57" fill="#fff" class="pb">1</text>
<text transform="translate(573.72,163.00) scale(0.9728,1)" font-size="6.47" fill="#000" class="pb">CDKN2A</text>
<rect x="605.40" y="153.75" width="12.40" height="10.95" fill="#6495ed"/>
<text transform="translate(609.43,162.14) scale(0.9544,1)" font-size="6.57" fill="#fff" class="pb">1</text>
<rect x="620.12" y="153.75" width="12.40" height="10.95" fill="#6495ed"/>
<text transform="translate(624.15,162.14) scale(0.9544,1)" font-size="6.57" fill="#fff" class="pb">1</text>
<rect x="634.84" y="153.75" width="12.40" height="10.95" fill="#6495ed"/>
<text transform="translate(638.87,162.14) scale(0.9544,1)" font-size="6.57" fill="#fff" class="pb">1</text>
<rect x="649.56" y="153.75" width="12.40" height="10.95" fill="#6495ed"/>
<text transform="translate(653.59,162.14) scale(0.9544,1)" font-size="6.57" fill="#fff" class="pb">1</text>
<rect x="664.28" y="153.75" width="12.40" height="10.95" fill="#6495ed"/>
<text transform="translate(668.31,162.14) scale(0.9544,1)" font-size="6.57" fill="#fff" class="pb">1</text>
<text transform="translate(573.72,175.82) scale(0.9708,1)" font-size="6.47" fill="#000" class="pb">CDKN2B</text>
<rect x="605.40" y="166.57" width="12.40" height="10.95" fill="#6495ed"/>
<text transform="translate(609.43,174.96) scale(0.9544,1)" font-size="6.57" fill="#fff" class="pb">1</text>
<rect x="620.12" y="166.57" width="12.40" height="10.95" fill="#6495ed"/>
<text transform="translate(624.15,174.96) scale(0.9544,1)" font-size="6.57" fill="#fff" class="pb">1</text>
<rect x="634.84" y="166.57" width="12.40" height="10.95" fill="#6495ed"/>
<text transform="translate(638.87,174.96) scale(0.9544,1)" font-size="6.57" fill="#fff" class="pb">1</text>
<rect x="649.56" y="166.57" width="12.40" height="10.95" fill="#6495ed"/>
<text transform="translate(653.59,174.96) scale(0.9544,1)" font-size="6.57" fill="#fff" class="pb">1</text>
<rect x="664.28" y="166.57" width="12.40" height="10.95" fill="#6495ed"/>
<text transform="translate(668.31,174.96) scale(0.9544,1)" font-size="6.57" fill="#fff" class="pb">1</text>
<text transform="translate(573.81,188.64) scale(0.9608,1)" font-size="6.47" fill="#000" class="pb">PDCD1LG2</text>
<rect x="605.40" y="179.39" width="12.40" height="10.95" fill="#6495ed"/>
<text transform="translate(609.43,187.78) scale(0.9544,1)" font-size="6.57" fill="#fff" class="pb">1</text>
<rect x="620.12" y="179.39" width="12.40" height="10.95" fill="#6495ed"/>
<text transform="translate(624.15,187.78) scale(0.9544,1)" font-size="6.57" fill="#fff" class="pb">1</text>
<rect x="634.84" y="179.39" width="12.40" height="10.95" fill="#6495ed"/>
<text transform="translate(638.87,187.78) scale(0.9544,1)" font-size="6.57" fill="#fff" class="pb">1</text>
<rect x="649.56" y="179.39" width="12.40" height="10.95" fill="#6495ed"/>
<text transform="translate(653.59,187.78) scale(0.9544,1)" font-size="6.57" fill="#fff" class="pb">1</text>
<rect x="664.28" y="179.39" width="12.40" height="10.95" fill="#6495ed"/>
<text transform="translate(668.31,187.78) scale(0.9544,1)" font-size="6.57" fill="#fff" class="pb">1</text>
<text transform="translate(573.54,201.46) scale(0.9779,1)" font-size="6.47" fill="#000" class="pb">TP53</text>
<rect x="605.40" y="192.21" width="12.40" height="10.95" fill="#6495ed"/>
<text transform="translate(609.43,200.60) scale(0.9544,1)" font-size="6.57" fill="#fff" class="pb">1</text>
<rect x="620.12" y="192.21" width="12.40" height="10.95" fill="#6495ed"/>
<text transform="translate(624.15,200.60) scale(0.9544,1)" font-size="6.57" fill="#fff" class="pb">1</text>
<rect x="634.84" y="192.21" width="12.40" height="10.95" fill="#6495ed"/>
<text transform="translate(638.87,200.60) scale(0.9544,1)" font-size="6.57" fill="#fff" class="pb">1</text>
<rect x="649.56" y="192.21" width="12.40" height="10.95" fill="#6495ed"/>
<text transform="translate(653.59,200.60) scale(0.9544,1)" font-size="6.57" fill="#fff" class="pb">1</text>
<rect x="664.28" y="192.21" width="12.40" height="10.95" fill="#6495ed"/>
<text transform="translate(668.31,200.60) scale(0.9544,1)" font-size="6.57" fill="#fff" class="pb">1</text>
<text transform="translate(564.87,214.28) scale(1.0321,1)" font-size="6.47" fill="#000" class="pb">21</text>
<text transform="translate(573.82,214.28) scale(0.9419,1)" font-size="6.47" fill="#000" class="pb">SETD2</text>
<rect x="620.12" y="205.03" width="12.40" height="10.95" fill="#6495ed"/>
<text transform="translate(624.15,213.42) scale(0.9544,1)" font-size="6.57" fill="#fff" class="pb">1</text>
<rect x="634.84" y="205.03" width="12.40" height="10.95" fill="#6495ed"/>
<text transform="translate(638.87,213.42) scale(0.9544,1)" font-size="6.57" fill="#fff" class="pb">1</text>
<rect x="649.56" y="205.03" width="12.40" height="10.95" fill="#6495ed"/>
<text transform="translate(653.59,213.42) scale(0.9544,1)" font-size="6.57" fill="#fff" class="pb">1</text>
<rect x="664.28" y="205.03" width="12.40" height="10.95" fill="#6495ed"/>
<text transform="translate(668.31,213.42) scale(0.9544,1)" font-size="6.57" fill="#fff" class="pb">1</text>
<text transform="translate(564.87,227.10) scale(1.0441,1)" font-size="6.47" fill="#000" class="pb">24</text>
<text transform="translate(573.71,227.10) scale(1.0166,1)" font-size="6.47" fill="#000" class="pb">CD274</text>
<rect x="605.40" y="217.85" width="12.40" height="10.95" fill="#6495ed"/>
<text transform="translate(609.43,226.24) scale(0.9544,1)" font-size="6.57" fill="#fff" class="pb">1</text>
<rect x="634.84" y="217.85" width="12.40" height="10.95" fill="#6495ed"/>
<text transform="translate(638.87,226.24) scale(0.9544,1)" font-size="6.57" fill="#fff" class="pb">1</text>
<rect x="649.56" y="217.85" width="12.40" height="10.95" fill="#6495ed"/>
<text transform="translate(653.59,226.24) scale(0.9544,1)" font-size="6.57" fill="#fff" class="pb">1</text>
<rect x="664.28" y="217.85" width="12.40" height="10.95" fill="#6495ed"/>
<text transform="translate(668.31,226.24) scale(0.9544,1)" font-size="6.57" fill="#fff" class="pb">1</text>
<text transform="translate(573.72,239.92) scale(0.9728,1)" font-size="6.47" fill="#000" class="pb">CDKN2A</text>
<rect x="605.40" y="230.67" width="12.40" height="10.95" fill="#6495ed"/>
<text transform="translate(609.43,239.06) scale(0.9544,1)" font-size="6.57" fill="#fff" class="pb">1</text>
<rect x="634.84" y="230.67" width="12.40" height="10.95" fill="#6495ed"/>
<text transform="translate(638.87,239.06) scale(0.9544,1)" font-size="6.57" fill="#fff" class="pb">1</text>
<rect x="649.56" y="230.67" width="12.40" height="10.95" fill="#6495ed"/>
<text transform="translate(653.59,239.06) scale(0.9544,1)" font-size="6.57" fill="#fff" class="pb">1</text>
<rect x="664.28" y="230.67" width="12.40" height="10.95" fill="#6495ed"/>
<text transform="translate(668.31,239.06) scale(0.9544,1)" font-size="6.57" fill="#fff" class="pb">1</text>
<text transform="translate(573.72,252.74) scale(0.9708,1)" font-size="6.47" fill="#000" class="pb">CDKN2B</text>
<rect x="605.40" y="243.49" width="12.40" height="10.95" fill="#6495ed"/>
<text transform="translate(609.43,251.88) scale(0.9544,1)" font-size="6.57" fill="#fff" class="pb">1</text>
<rect x="634.84" y="243.49" width="12.40" height="10.95" fill="#6495ed"/>
<text transform="translate(638.87,251.88) scale(0.9544,1)" font-size="6.57" fill="#fff" class="pb">1</text>
<rect x="649.56" y="243.49" width="12.40" height="10.95" fill="#6495ed"/>
<text transform="translate(653.59,251.88) scale(0.9544,1)" font-size="6.57" fill="#fff" class="pb">1</text>
<rect x="664.28" y="243.49" width="12.40" height="10.95" fill="#6495ed"/>
<text transform="translate(668.31,251.88) scale(0.9544,1)" font-size="6.57" fill="#fff" class="pb">1</text>
<text transform="translate(573.81,265.56) scale(0.9608,1)" font-size="6.47" fill="#000" class="pb">PDCD1LG2</text>
<rect x="605.40" y="256.31" width="12.40" height="10.95" fill="#6495ed"/>
<text transform="translate(609.43,264.70) scale(0.9544,1)" font-size="6.57" fill="#fff" class="pb">1</text>
<rect x="634.84" y="256.31" width="12.40" height="10.95" fill="#6495ed"/>
<text transform="translate(638.87,264.70) scale(0.9544,1)" font-size="6.57" fill="#fff" class="pb">1</text>
<rect x="649.56" y="256.31" width="12.40" height="10.95" fill="#6495ed"/>
<text transform="translate(653.59,264.70) scale(0.9544,1)" font-size="6.57" fill="#fff" class="pb">1</text>
<rect x="664.28" y="256.31" width="12.40" height="10.95" fill="#6495ed"/>
<text transform="translate(668.31,264.70) scale(0.9544,1)" font-size="6.57" fill="#fff" class="pb">1</text>
<text transform="translate(573.82,278.38) scale(0.9419,1)" font-size="6.47" fill="#000" class="pb">SETD2</text>
<rect x="605.40" y="269.13" width="12.40" height="10.95" fill="#6495ed"/>
<text transform="translate(609.43,277.52) scale(0.9544,1)" font-size="6.57" fill="#fff" class="pb">1</text>
<rect x="634.84" y="269.13" width="12.40" height="10.95" fill="#6495ed"/>
<text transform="translate(638.87,277.52) scale(0.9544,1)" font-size="6.57" fill="#fff" class="pb">1</text>
<rect x="649.56" y="269.13" width="12.40" height="10.95" fill="#6495ed"/>
<text transform="translate(653.59,277.52) scale(0.9544,1)" font-size="6.57" fill="#fff" class="pb">1</text>
<rect x="664.28" y="269.13" width="12.40" height="10.95" fill="#6495ed"/>
<text transform="translate(668.31,277.52) scale(0.9544,1)" font-size="6.57" fill="#fff" class="pb">1</text>
<text transform="translate(564.88,291.20) scale(1.0266,1)" font-size="6.47" fill="#000" class="pb">25</text>
<text transform="translate(573.80,291.20) scale(0.9844,1)" font-size="6.47" fill="#000" class="pb">DNMT3A</text>
<rect x="605.40" y="281.95" width="12.40" height="10.95" fill="#6495ed"/>
<text transform="translate(609.43,290.34) scale(0.9544,1)" font-size="6.57" fill="#fff" class="pb">1</text>
<rect x="620.12" y="281.95" width="12.40" height="10.95" fill="#6495ed"/>
<text transform="translate(624.15,290.34) scale(0.9544,1)" font-size="6.57" fill="#fff" class="pb">1</text>
<rect x="634.84" y="281.95" width="12.40" height="10.95" fill="#6495ed"/>
<text transform="translate(638.87,290.34) scale(0.9544,1)" font-size="6.57" fill="#fff" class="pb">1</text>
<rect x="649.56" y="281.95" width="12.40" height="10.95" fill="#6495ed"/>
<text transform="translate(653.59,290.34) scale(0.9544,1)" font-size="6.57" fill="#fff" class="pb">1</text>
<rect x="664.28" y="281.95" width="12.40" height="10.95" fill="#6495ed"/>
<text transform="translate(668.31,290.34) scale(0.9544,1)" font-size="6.57" fill="#fff" class="pb">1</text>
<text transform="translate(573.54,304.02) scale(0.9779,1)" font-size="6.47" fill="#000" class="pb">TP53</text>
<rect x="620.12" y="294.77" width="12.40" height="10.95" fill="#6495ed"/>
<text transform="translate(624.15,303.16) scale(0.9544,1)" font-size="6.57" fill="#fff" class="pb">1</text>
<rect x="634.84" y="294.77" width="12.40" height="10.95" fill="#6495ed"/>
<text transform="translate(638.87,303.16) scale(0.9544,1)" font-size="6.57" fill="#fff" class="pb">1</text>
<rect x="649.56" y="294.77" width="12.40" height="10.95" fill="#6495ed"/>
<text transform="translate(653.59,303.16) scale(0.9544,1)" font-size="6.57" fill="#fff" class="pb">1</text>
<rect x="664.28" y="294.77" width="12.40" height="10.95" fill="#6495ed"/>
<text transform="translate(668.31,303.16) scale(0.9544,1)" font-size="6.57" fill="#fff" class="pb">1</text>
<text transform="translate(564.87,316.84) scale(1.0451,1)" font-size="6.47" fill="#000" class="pb">28</text>
<text transform="translate(573.81,316.84) scale(0.9594,1)" font-size="6.47" fill="#000" class="pb">MEN1</text>
<rect x="649.56" y="307.59" width="12.40" height="10.95" fill="#6495ed"/>
<text transform="translate(653.59,315.98) scale(0.9544,1)" font-size="6.57" fill="#fff" class="pb">1</text>
<rect x="664.28" y="307.59" width="12.40" height="10.95" fill="#6495ed"/>
<text transform="translate(668.31,315.98) scale(0.9544,1)" font-size="6.57" fill="#fff" class="pb">1</text>
<text transform="translate(439.59,19.91) rotate(-45) scale(1.0185,1)" font-size="6.48" fill="#000" class="ph">Sample</text>
<text transform="translate(459.17,19.43) rotate(-45) scale(0.9968,1)" font-size="6.48" fill="#000" class="ph">Gene</text>
<text transform="translate(482.47,19.73) rotate(-45) scale(0.9204,1)" font-size="6.44" fill="#000" class="ph">ZPM-1</text>
<text transform="translate(497.97,19.73) rotate(-45) scale(0.9173,1)" font-size="6.44" fill="#000" class="ph">ZPM-2</text>
<text transform="translate(513.47,19.73) rotate(-45) scale(0.9219,1)" font-size="6.44" fill="#000" class="ph">ZPM-3</text>
<text transform="translate(528.97,19.73) rotate(-45) scale(0.9247,1)" font-size="6.44" fill="#000" class="ph">ZPM-4</text>
<text transform="translate(544.47,19.73) rotate(-45) scale(0.9188,1)" font-size="6.44" fill="#000" class="ph">ZPM-5</text>
<text transform="translate(567.89,20.21) rotate(-45) scale(1.0185,1)" font-size="6.48" fill="#000" class="ph">Sample</text>
<text transform="translate(587.07,19.83) rotate(-45) scale(0.9968,1)" font-size="6.48" fill="#000" class="ph">Gene</text>
<text transform="translate(610.17,20.58) rotate(-45) scale(0.9204,1)" font-size="6.44" fill="#000" class="ph">ZPM-1</text>
<text transform="translate(625.82,20.58) rotate(-45) scale(0.9173,1)" font-size="6.44" fill="#000" class="ph">ZPM-2</text>
<text transform="translate(641.47,20.58) rotate(-45) scale(0.9219,1)" font-size="6.44" fill="#000" class="ph">ZPM-3</text>
<text transform="translate(657.12,20.58) rotate(-45) scale(0.9247,1)" font-size="6.44" fill="#000" class="ph">ZPM-4</text>
<text transform="translate(672.77,20.58) rotate(-45) scale(0.9188,1)" font-size="6.44" fill="#000" class="ph">ZPM-5</text>
<rect x="478.50" y="327.60" width="11.40" height="9.60" fill="#b22222" stroke="#000" stroke-width="1.15"/>
<rect x="478.50" y="340.40" width="11.40" height="9.80" fill="#f08080" stroke="#000" stroke-width="1.15"/>
<text transform="translate(492.51,334.80) scale(1.0849,1)" font-size="6.78" fill="#000" class="pb">High-level amplification</text>
<text transform="translate(493.06,347.60) scale(1.0891,1)" font-size="6.78" fill="#000" class="pb">Amplification</text>
<rect x="605.50" y="327.40" width="11.00" height="10.00" fill="#0000cd" stroke="#000" stroke-width="1.15"/>
<rect x="605.50" y="340.70" width="11.00" height="9.60" fill="#6495ed" stroke="#000" stroke-width="1.15"/>
<text transform="translate(621.32,333.90) scale(1.0694,1)" font-size="6.78" fill="#000" class="pb">Deep deletion</text>
<text transform="translate(621.32,347.00) scale(1.0732,1)" font-size="6.78" fill="#000" class="pb">Deletion</text></svg></body></html>
